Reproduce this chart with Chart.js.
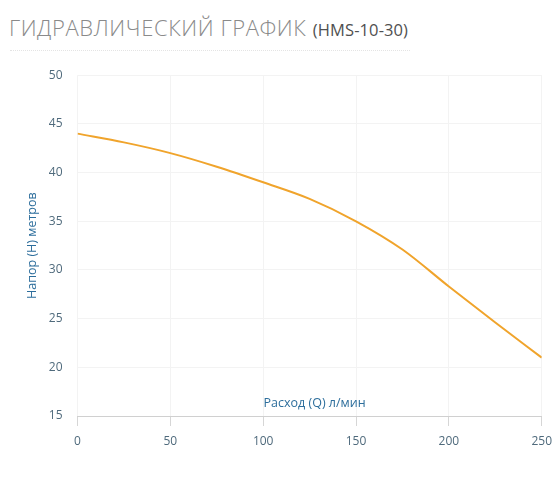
<!DOCTYPE html>
<html>
<head>
<meta charset="utf-8">
<script src="https://cdn.jsdelivr.net/npm/chart.js@4"></script>
<style>
  body { margin: 0; background: #fff; width: 560px; height: 504px; overflow: hidden; position: relative; font-family: "Open Sans", sans-serif; }
  #titulo { position: absolute; left: 9px; top: 12px; margin: 0; font-weight: 300; font-size: 22px; color: #8a8a8a; letter-spacing: 0.6px; white-space: nowrap; }
  #titulo span { font-size: 16.5px; color: #505050; font-weight: 400; letter-spacing: 0.1px; }
  #linha { position: absolute; left: 10px; top: 50px; width: 400px; border-top: 1px dotted #e4e4e4; }
  #box { position: absolute; left: 0; top: 53px; width: 560px; height: 427px; }
</style>
</head>
<body>
<h2 id="titulo">ГИДРАВЛИЧЕСКИЙ ГРАФИК <span>(HMS-10-30)</span></h2>
<div id="linha"></div>
<div id="box"><canvas id="grafico"></canvas></div>
<script>
const vazao = [0, 25, 50, 75, 100, 125, 150, 175, 200, 225, 250];
const pressao = [44, 43.1, 42, 40.6, 39, 37.3, 35, 32.1, 28.3, 24.6, 21];
const ticksY = [15, 20, 25, 30, 35, 40, 45, 50];
const tituloX = "Расход (Q) л/мин";
const tituloY = "Напор (Н) метров";

const corTick = "#4f6a7c";
const corTitulo = "#2d6e9c";

// titulo do eixo X fica acima da linha do eixo
const tituloEixoX = {
  id: "tituloEixoX",
  afterDraw(chart) {
    const ctx = chart.ctx;
    const a = chart.chartArea;
    ctx.save();
    ctx.font = "12.5px 'Open Sans'";
    ctx.fillStyle = corTitulo;
    ctx.textAlign = "center";
    ctx.textBaseline = "middle";
    ctx.fillText(tituloX, (a.left + a.right) / 2 + 5, a.bottom - 13);
    ctx.restore();
  }
};

new Chart(document.getElementById("grafico"), {
  type: "line",
  data: {
    datasets: [{
      data: vazao.map((q, i) => ({ x: q, y: pressao[i] })),
      borderColor: "#f0a42c",
      borderWidth: 2,
      pointRadius: 0,
      cubicInterpolationMode: "monotone",
      fill: false,
    }],
  },
  options: {
    responsive: true,
    maintainAspectRatio: false,
    animation: false,
    layout: { padding: { top: 7, right: 18, left: 0, bottom: 24 } },
    plugins: { legend: { display: false }, tooltip: { enabled: false } },
    scales: {
      x: {
        type: "linear",
        min: 0,
        max: 250,
        ticks: { stepSize: 50, color: corTick, font: { family: "Open Sans", size: 12 }, padding: 8 },
        grid: { color: "#f3f3f3", tickColor: "#d6d6d6", tickLength: 10, drawOnChartArea: true },
        border: { color: "#d0d0d0" },
        afterFit: s => { s.height = 40; },
      },
      y: {
        min: 15,
        max: 50,
        afterBuildTicks: s => { s.ticks = ticksY.map(v => ({ value: v })); },
        ticks: { color: corTick, font: { family: "Open Sans", size: 12 }, padding: 15 },
        grid: { color: "#f3f3f3", drawTicks: false },
        border: { display: false },
        title: { display: true, text: tituloY, color: corTitulo, font: { family: "Open Sans", size: 12.5 }, padding: { top: 25, bottom: 0 } },
        afterFit: s => { s.width = 77.5; },
      },
    },
  },
  plugins: [tituloEixoX],
});
</script>
</body>
</html>
